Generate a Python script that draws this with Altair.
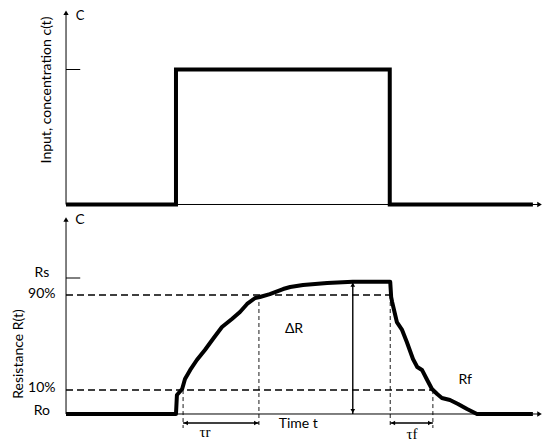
import altair as alt
import pandas as pd

# ---------------- data ----------------
# input concentration step c(t)
t_input = [0, 23.2, 23.2, 68.3, 68.3, 98.5]
c_input = [0, 0, 1, 1, 0, 0]

# sensor resistance response R(t) (normalised: Ro = 0, Rs = 1)
t_resp = [0, 23.2, 23.4, 24.5, 25.1, 26.2, 27.6, 29.3, 31.0, 32.9, 35.0, 36.7,
          38.2, 39.9, 40.9, 43.0, 45.8, 47.3, 50.0, 55.1, 60.5, 68.4, 68.6,
          68.8, 69.8, 70.9, 71.9, 73.2, 74.1, 75.1, 76.2, 77.2, 78.3, 79.3,
          81.0, 82.7, 84.6, 86.7, 98.5]
r_resp = [0, 0, 0.14, 0.184, 0.257, 0.324, 0.397, 0.471, 0.551, 0.64, 0.699,
          0.75, 0.809, 0.853, 0.86, 0.882, 0.919, 0.934, 0.949, 0.963, 0.972,
          0.972, 0.86, 0.824, 0.676, 0.618, 0.529, 0.404, 0.346, 0.324, 0.25,
          0.184, 0.147, 0.118, 0.103, 0.074, 0.037, 0, 0]

level_names = ["Rs", "90%", "10%", "Ro"]
level_vals = [1.0, 0.875, 0.176, 0.0]

t_rise10, t_rise90 = 24.7, 40.7
t_fall90, t_fall10 = 68.4, 77.4
t_delta, r_max = 60.5, 0.972

# ---------------- layout ----------------
T_MIN, T_MAX = -12.24, 100.42
W = 534
H_TOP, H_BOT = 204, 230
FONT = "Lato"
INK = "#000000"

xs = alt.Scale(domain=[T_MIN, T_MAX], nice=False, zero=False)
cs = alt.Scale(domain=[-0.0556, 1.4556], nice=False, zero=False)
rs = alt.Scale(domain=[-0.2206, 1.4706], nice=False, zero=False)


def rules(df, yscale, **kw):
    return alt.Chart(df).mark_rule(color=INK, **kw).encode(
        x=alt.X("x:Q", scale=xs, axis=None),
        x2="x2:Q",
        y=alt.Y("y:Q", scale=yscale, axis=None),
        y2="y2:Q",
    )


def heads(df, yscale, size=28):
    return alt.Chart(df).mark_point(filled=True, color=INK, size=size, opacity=1).encode(
        x=alt.X("x:Q", scale=xs, axis=None),
        y=alt.Y("y:Q", scale=yscale, axis=None),
        shape=alt.Shape("s:N", scale=None),
    )


def texts(df, yscale, **kw):
    return alt.Chart(df).mark_text(color=INK, **kw).encode(
        x=alt.X("x:Q", scale=xs, axis=None),
        y=alt.Y("y:Q", scale=yscale, axis=None),
        text="label:N",
    )


# ---------------- top panel ----------------
top_axes = pd.DataFrame({"x": [0, 0, 0], "x2": [99.6, 0, 3.0],
                         "y": [0, 0, 1], "y2": [0, 1.42, 1]})
top_heads = pd.DataFrame({"x": [99.9, 0], "y": [0, 1.42],
                          "s": ["triangle-right", "triangle-up"]})
top_line = pd.DataFrame({"t": t_input, "c": c_input, "i": range(len(t_input))})

top = alt.layer(
    rules(top_axes, cs, strokeWidth=1),
    heads(top_heads, cs),
    alt.Chart(top_line).mark_line(color=INK, strokeWidth=4, strokeJoin="miter").encode(
        x=alt.X("t:Q", scale=xs, axis=None),
        y=alt.Y("c:Q", scale=cs, axis=None),
        order="i:Q",
    ),
    texts(pd.DataFrame({"x": [2.95], "y": [1.398], "label": ["C"]}), cs,
          font=FONT, fontSize=13, align="center", baseline="middle"),
    texts(pd.DataFrame({"x": [-4.0], "y": [0.848], "label": ["Input, concentration c(t)"]}), cs,
          font=FONT, fontSize=14, align="center", baseline="middle", angle=270),
).properties(width=W, height=H_TOP)

# ---------------- bottom panel ----------------
bot_axes = pd.DataFrame({"x": [0, 0, 0], "x2": [99.6, 0, 3.0],
                         "y": [0, 0, 1.0], "y2": [0, 1.43, 1.0]})
bot_heads = pd.DataFrame({"x": [99.9, 0], "y": [0, 1.43],
                          "s": ["triangle-right", "triangle-up"]})
resp = pd.DataFrame({"t": t_resp, "r": r_resp, "i": range(len(t_resp))})

hdash = pd.DataFrame({"x": [0, 0], "x2": [t_fall90, t_fall10],
                      "y": [level_vals[1], level_vals[2]],
                      "y2": [level_vals[1], level_vals[2]]})
vbottom = -0.103
vdash = pd.DataFrame({"x": [t_rise10, t_rise90, t_fall90, t_fall10],
                      "x2": [t_rise10, t_rise90, t_fall90, t_fall10],
                      "y": [level_vals[2], level_vals[1], level_vals[1], level_vals[2]],
                      "y2": [vbottom] * 4})
arrow_y = -0.066
arrows = pd.DataFrame({"x": [t_delta, t_rise10, t_fall90],
                       "x2": [t_delta, t_rise90, t_fall10],
                       "y": [r_max, arrow_y, arrow_y],
                       "y2": [0, arrow_y, arrow_y]})
arrow_heads = pd.DataFrame({
    "x": [t_delta, t_delta, t_rise10 + 0.6, t_rise90 - 0.6, t_fall90 + 0.6, t_fall10 - 0.6],
    "y": [r_max - 0.022, 0.022, arrow_y, arrow_y, arrow_y, arrow_y],
    "s": ["triangle-up", "triangle-down", "triangle-left", "triangle-right",
          "triangle-left", "triangle-right"]})

level_lbl = pd.DataFrame({"x": [-5.1] * 4,
                          "y": [level_vals[0] + 0.037, level_vals[1] + 0.007,
                                level_vals[2] + 0.015, level_vals[3] + 0.022],
                          "label": level_names})
annot = pd.DataFrame({"x": [2.95, 48.1, 84.2, 49.0],
                      "y": [1.426, 0.625, 0.25, -0.074],
                      "label": ["C", "ΔR", "Rf", "Time t"]})
tau = pd.DataFrame({"x": [29.3, 73.0], "y": [-0.132, -0.147], "label": ["τr", "τf"]})

bottom = alt.layer(
    rules(bot_axes, rs, strokeWidth=1),
    heads(bot_heads, rs),
    rules(hdash, rs, strokeWidth=1.4, strokeDash=[7, 4]),
    rules(vdash, rs, strokeWidth=0.9, strokeDash=[4, 3]),
    rules(arrows, rs, strokeWidth=1.4),
    heads(arrow_heads, rs, size=22),
    alt.Chart(resp).mark_line(color=INK, strokeWidth=4, strokeJoin="round").encode(
        x=alt.X("t:Q", scale=xs, axis=None),
        y=alt.Y("r:Q", scale=rs, axis=None),
        order="i:Q",
    ),
    texts(level_lbl, rs, font=FONT, fontSize=14, align="center", baseline="middle"),
    texts(annot, rs, font=FONT, fontSize=14, align="center", baseline="middle"),
    texts(tau, rs, font="Liberation Serif", fontSize=15, align="center", baseline="middle"),
    texts(pd.DataFrame({"x": [-10.0], "y": [0.441], "label": ["Resistance R(t)"]}), rs,
          font=FONT, fontSize=14, align="center", baseline="middle", angle=270),
).properties(width=W, height=H_BOT)

chart = alt.vconcat(top, bottom, spacing=0).properties(padding=0).configure_view(stroke=None)

chart.save("out.html", embed_options={"renderer": "svg", "actions": False})
